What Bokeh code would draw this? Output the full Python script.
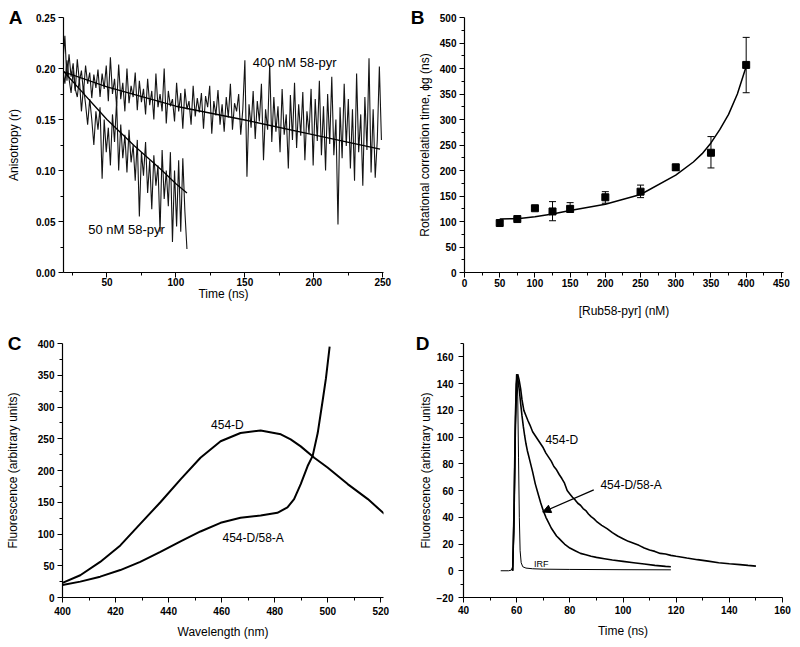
import numpy as np
from bokeh.plotting import figure
from bokeh.layouts import column, row
from bokeh.models import (FixedTicker, PrintfTickFormatter, Label, Whisker, ColumnDataSource,
                          Arrow, NormalHead, TeeHead, Range1d, LinearAxis)
from bokeh.embed import file_html
from bokeh.resources import INLINE

FONT = "Liberation Sans"

# ---------------- Panel A data: anisotropy decays ----------------
a400_t0, a_dt = 18.0, 1.5
a400_r = [0.205, 0.232, 0.188, 0.214, 0.192, 0.205, 0.178, 0.209, 0.187, 0.198,
          0.176, 0.203, 0.185, 0.196, 0.171, 0.194, 0.181, 0.199, 0.172, 0.195,
          0.180, 0.203, 0.168, 0.211, 0.175, 0.190, 0.163, 0.204, 0.170, 0.186,
          0.158, 0.200, 0.166, 0.183, 0.172, 0.196, 0.159, 0.188, 0.167, 0.180,
          0.155, 0.190, 0.164, 0.178, 0.150, 0.195, 0.162, 0.175, 0.158, 0.200,
          0.146, 0.178, 0.163, 0.170, 0.148, 0.186, 0.158, 0.176, 0.141, 0.180,
          0.160, 0.168, 0.145, 0.183, 0.153, 0.171, 0.157, 0.176, 0.141, 0.173,
          0.162, 0.183, 0.136, 0.168, 0.154, 0.179, 0.145, 0.165, 0.138, 0.172,
          0.152, 0.185, 0.140, 0.166, 0.158, 0.175, 0.135, 0.160, 0.208, 0.094,
          0.165, 0.142, 0.178, 0.131, 0.168, 0.148, 0.185, 0.110, 0.160, 0.140,
          0.205, 0.128, 0.172, 0.138, 0.163, 0.118, 0.180, 0.135, 0.155, 0.102,
          0.174, 0.130, 0.186, 0.122, 0.165, 0.134, 0.177, 0.110, 0.158, 0.136,
          0.180, 0.105, 0.170, 0.129, 0.188, 0.115, 0.163, 0.100, 0.175, 0.126,
          0.192, 0.115, 0.150, 0.047, 0.162, 0.112, 0.185, 0.124, 0.170, 0.102,
          0.160, 0.090, 0.195, 0.118, 0.155, 0.085, 0.172, 0.120, 0.210, 0.098,
          0.160, 0.093, 0.130, 0.202, 0.130]
a50_r = [0.200, 0.185, 0.208, 0.190, 0.176, 0.198, 0.180, 0.172, 0.190, 0.158,
         0.182, 0.165, 0.145, 0.170, 0.150, 0.125, 0.158, 0.140, 0.162, 0.092,
         0.150, 0.118, 0.142, 0.105, 0.155, 0.128, 0.168, 0.100, 0.145, 0.112,
         0.135, 0.098, 0.140, 0.108, 0.125, 0.090, 0.130, 0.055, 0.118, 0.095,
         0.128, 0.078, 0.110, 0.062, 0.115, 0.085, 0.105, 0.040, 0.120, 0.072,
         0.100, 0.065, 0.118, 0.030, 0.100, 0.045, 0.110, 0.040, 0.112, 0.060,
         0.023]
fit400_t = [18, 50, 100, 150, 200, 248]
fit400_r = [0.197, 0.182, 0.163, 0.1495, 0.135, 0.121]
fit50_t = [18, 30, 40, 50, 60, 70, 80, 90, 100, 108]
fit50_r = [0.198, 0.180, 0.165, 0.150, 0.137, 0.124, 0.112, 0.100, 0.087, 0.078]

# ---------------- Panel B data ----------------
b_conc = [50, 75, 100, 125, 150, 200, 250, 300, 350, 400]
b_phi = [97, 104.8, 126, 119.7, 124.8, 147.5, 158.5, 206.3, 234.8, 407]
b_err_lo = [93, 102, 123, 101.5, 117.7, 135.8, 146.8, 200, 205, 352.5]
b_err_hi = [101, 107.5, 129, 139, 137, 158.5, 171.4, 211, 266.5, 461]
bfit_conc = [50, 75, 100, 125, 150, 200, 250, 300, 325, 337.5, 350, 362.5, 375, 387.5, 400]
bfit_phi = [105, 105.5, 109.3, 114.5, 121.6, 133.9, 153, 190.8, 216.7, 233, 254, 280, 310, 350, 404]

# ---------------- Panel C data: emission spectra ----------------
c_wl_d = [400, 406.7, 414.2, 421.8, 429.3, 436.9, 444.5, 452, 459.6, 467.1, 474.7,
          482.3, 486, 489.8, 494.9, 499.9, 507.5, 515.1, 521.3]
c_fl_d = [23, 35, 56, 82, 116, 150, 186, 220, 246, 259, 263,
          257, 249, 238, 220, 204.7, 178.6, 155, 131.7]
c_wl_da = [400, 406.7, 414.2, 421.8, 429.3, 436.9, 444.5, 452, 459.6, 467.1, 474.7,
           481, 484.8, 487.3, 489.8, 492.4, 494.3, 496.2, 498.1, 499.3, 500.7]
c_fl_da = [19.7, 25, 32.8, 43.2, 56.2, 71.8, 88.5, 104, 117.6, 125.5, 129,
           133.3, 142, 155, 178.6, 207, 223, 259, 311, 345, 395]

# ---------------- Panel D data: fluorescence decays ----------------
d_t_d = [58.5, 59.0, 59.5, 60.0, 60.4, 60.9, 61.5, 62.0, 62.7, 63.5, 64.3, 65.0, 66.0, 67.0, 68.0,
         69.0, 70.0, 71.0, 72.0, 73.0, 74.0, 75.0, 76.0, 77.0, 78.0, 79.0, 80.0, 81.0, 82.0, 83.0,
         84.0, 85.0, 86.0, 87.0, 88.0, 89.0, 90.0, 92.0, 94.0, 96.0, 98.0, 100.0, 102.0, 104.0,
         106.0, 108.0, 110.0, 112.0, 114.0, 116.0, 118.0, 120.0, 124.0, 128.0, 132.0, 136.0,
         140.0, 144.0, 147.0, 150.0]
d_f_d = [0, 40, 105, 140, 147, 143, 136, 128, 120, 116, 112, 109, 104, 101, 98,
         95, 92, 88, 85, 82, 78, 75.5, 72, 69, 65.5, 60, 57.5, 55, 53, 50.5,
         49, 46.5, 45, 42.5, 40.5, 39, 37, 34, 31.5, 28.5, 26, 24, 22, 20.5,
         19, 17, 15.5, 14.5, 13, 12.5, 11.5, 10.8, 9.5, 8.3, 7.2, 6,
         5.2, 4.6, 4, 3.5]
d_t_da = [58.5, 59.0, 59.5, 60.0, 60.4, 61.0, 61.5, 62.0, 62.5, 63.0, 63.5, 64.0, 64.5, 65.0,
          66.0, 67.0, 68.0, 69.0, 70.0, 71.0, 72.0, 73.0, 74.0, 75.0, 76.0, 77.0, 78.0, 79.0,
          80.0, 82.0, 84.0, 86.0, 88.0, 90.0, 93.0, 96.0, 100.0, 104.0, 108.0, 112.0, 116.0, 118.0]
d_f_da = [0, 45, 115, 147, 144, 135, 125, 116, 108, 101, 95, 90, 86, 82,
          74, 65, 58, 51, 45, 40, 36, 32, 29, 26, 24, 22, 20, 18.5,
          17, 15, 13, 12, 10.8, 10, 9, 8, 7, 6, 5, 4, 3.3, 3]
d_t_irf = [54, 57, 58, 58.5, 59.0, 59.4, 59.8, 60.1, 60.4, 60.7, 61.0, 61.3, 61.7, 62.3, 63.5, 66, 70, 80, 100, 118]
d_f_irf = [0, 0, 0.5, 3, 30, 90, 140, 147, 130, 85, 40, 15, 6, 3, 2, 1.5, 1.2, 1, 0.8, 0.7]


def make(xr, yr, left, right, top, bottom, w=400, h=320):
    p = figure(width=w, height=h, x_range=Range1d(*xr), y_range=Range1d(*yr),
               output_backend="svg", toolbar_location=None, tools="",
               min_border_left=left, min_border_right=right,
               min_border_top=top, min_border_bottom=bottom)
    p.xgrid.visible = False
    p.ygrid.visible = False
    p.outline_line_color = None
    p.background_fill_color = "white"
    p.border_fill_color = "white"
    for ax in (p.xaxis[0], p.yaxis[0]):
        ax.axis_line_color = "black"
        ax.axis_line_width = 1.2
        ax.major_tick_out = 5
        ax.major_tick_in = 0
        ax.minor_tick_out = 3
        ax.minor_tick_in = 0
        ax.major_tick_line_color = "black"
        ax.minor_tick_line_color = "black"
        ax.major_label_text_font = FONT
        ax.major_label_text_font_size = "10px"
        ax.major_label_text_font_style = "bold"
        ax.major_label_text_color = "black"
        ax.axis_label_text_font = FONT
        ax.axis_label_text_font_size = "12px"
        ax.axis_label_text_font_style = "normal"
        ax.axis_label_text_color = "black"
        ax.major_label_standoff = 3
    return p


def ticks(p, xt, xm, yt, ym):
    p.xaxis[0].ticker = FixedTicker(ticks=xt, minor_ticks=xm)
    p.yaxis[0].ticker = FixedTicker(ticks=yt, minor_ticks=ym)


def letter_axis(p, ytop, letter, ylabel, standoff, title_standoff):
    """Outer left axis that carries the panel letter (as its only tick label) and the y title."""
    ax = LinearAxis(ticker=FixedTicker(ticks=[ytop], minor_ticks=[]),
                    major_label_overrides={ytop: letter})
    ax.axis_line_color = None
    ax.major_tick_line_color = None
    ax.minor_tick_line_color = None
    ax.major_tick_out = 0
    ax.major_tick_in = 0
    ax.minor_tick_out = 0
    ax.minor_tick_in = 0
    ax.major_label_text_font = FONT
    ax.major_label_text_font_size = "19px"
    ax.major_label_text_font_style = "bold"
    ax.major_label_text_color = "black"
    ax.major_label_standoff = standoff
    ax.axis_label = ylabel
    ax.axis_label_text_font = FONT
    ax.axis_label_text_font_size = "12px"
    ax.axis_label_text_font_style = "normal"
    ax.axis_label_text_color = "black"
    ax.axis_label_standoff = title_standoff
    p.add_layout(ax, "left")


def note(p, x, y, t, size="12px"):
    p.add_layout(Label(x=x, y=y, text=t, text_font=FONT, text_font_size=size,
                       text_align="left", text_baseline="middle", text_color="black"))


# ---------- Panel A ----------
pA = make((18.5, 250.5), (0, 0.25), 63, 17, 16, 47)
ticks(pA, [50, 100, 150, 200, 250], [25, 75, 125, 175, 225],
      [0, 0.05, 0.10, 0.15, 0.20, 0.25], [0.025, 0.075, 0.125, 0.175, 0.225])
pA.yaxis[0].formatter = PrintfTickFormatter(format="%.2f")
pA.xaxis[0].axis_label = "Time (ns)"
pA.xaxis[0].major_label_standoff = 0
pA.xaxis[0].axis_label_standoff = -2
letter_axis(pA, 0.25, "A", "Anisotropy (r)", 11, -15)
t400 = [a400_t0 + a_dt * i for i in range(len(a400_r))]
t50 = [a400_t0 + a_dt * i for i in range(len(a50_r))]
pA.line(t400, a400_r, line_color="#141414", line_width=1.1)
pA.line(t50, a50_r, line_color="#141414", line_width=1.1)
pA.line(fit400_t, fit400_r, line_color="black", line_width=1.3)
pA.line(fit50_t, fit50_r, line_color="black", line_width=1.3)
note(pA, 155.7, 0.2056, "400 nM 58-pyr", "13px")
note(pA, 36.4, 0.042, "50 nM 58-pyr", "13px")

# ---------- Panel B ----------
pB = make((0, 453), (0, 500), 64, 17, 17, 45)
ticks(pB, list(range(0, 451, 50)), list(range(25, 451, 50)),
      list(range(0, 501, 50)), list(range(25, 501, 50)))
pB.xaxis[0].axis_label = "[Rub58-pyr] (nM)"
pB.xaxis[0].major_label_standoff = 1
pB.xaxis[0].axis_label_standoff = 14
letter_axis(pB, 500, "B", "Rotational correlation time, \u03d5g (ns)", 12, -24)
srcB = ColumnDataSource(dict(x=b_conc, y=b_phi, lo=b_err_lo, hi=b_err_hi))
pB.add_layout(Whisker(source=srcB, base="x", upper="hi", lower="lo", line_color="black", line_width=1,
                      upper_head=TeeHead(size=7, line_color="black", line_width=1),
                      lower_head=TeeHead(size=7, line_color="black", line_width=1)))
pB.line(bfit_conc, bfit_phi, line_color="black", line_width=1.5)
pB.scatter("x", "y", source=srcB, marker="square", size=7, fill_color="black", line_color="black")

# ---------- Panel C ----------
pC = make((400, 521), (0, 400), 62, 17, 23, 48, h=327)
ticks(pC, list(range(400, 521, 20)), list(range(410, 521, 20)),
      list(range(0, 401, 50)), list(range(25, 401, 50)))
pC.xaxis[0].axis_label = "Wavelength (nm)"
pC.xaxis[0].major_label_standoff = 4
pC.xaxis[0].axis_label_standoff = 7
letter_axis(pC, 400, "C", "Fluorescence (arbitrary units)", 13, -15)
pC.line(c_wl_d, c_fl_d, line_color="black", line_width=2)
pC.line(c_wl_da, c_fl_da, line_color="black", line_width=2)
note(pC, 456, 271, "454-D")
note(pC, 460.3, 93.8, "454-D/58-A")

# ---------- Panel D ----------
pD = make((40, 160), (-20, 170), 63, 18, 23, 50, h=327)
ticks(pD, list(range(40, 161, 20)), list(range(50, 161, 20)),
      list(range(-20, 161, 20)), list(range(-10, 171, 20)))
pD.xaxis[0].axis_label = "Time (ns)"
pD.xaxis[0].major_label_standoff = 3
pD.xaxis[0].axis_label_standoff = 7
pD.yaxis[0].major_label_standoff = 5
letter_axis(pD, 170, "D", "Fluorescence (arbitrary units)", 4, -20)
pD.line(d_t_irf, d_f_irf, line_color="black", line_width=1)
pD.line(d_t_da, d_f_da, line_color="black", line_width=1.6)
pD.line(d_t_d, d_f_d, line_color="black", line_width=1.6)
pD.add_layout(Arrow(end=NormalHead(size=8, fill_color="black", line_color="black"),
                    x_start=89, y_start=60.5, x_end=69.8, y_end=43.9,
                    line_color="black", line_width=1.2))
note(pD, 70.8, 98, "454-D")
note(pD, 91.5, 64.5, "454-D/58-A")
note(pD, 66.5, 5, "IRF", "9px")

layout = column(row(pA, pB), row(pC, pD))
open("out.html", "w").write(file_html(layout, INLINE))
